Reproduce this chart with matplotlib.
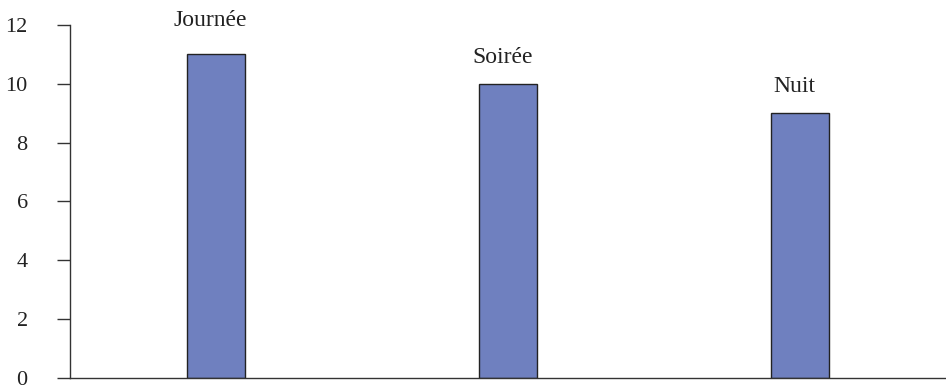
import matplotlib.pyplot as plt

categories = ["Journée", "Soirée", "Nuit"]
values = [11, 10, 9]
label_offsets = [0.95, 0.72, 0.72]

plt.rcParams['font.family'] = ['Liberation Serif', 'DejaVu Serif']

fig = plt.figure(figsize=(9.46, 3.88), dpi=100)
ax = fig.add_axes([0.074, 0.0265, 0.926, 0.909])

x = list(range(len(categories)))
ax.bar(x, values, 0.2, color='#6f80bf', edgecolor='#222222', linewidth=1)

for xi, v, name, off in zip(x, values, categories, label_offsets):
    ax.annotate(name, (xi, v + off), xytext=(-4, 0), textcoords='offset points',
                ha='center', va='baseline', fontsize=17, color='#222222')

ax.set_xlim(-0.5, 2.5)
ax.set_ylim(0, 12)
ax.set_yticks(range(0, 13, 2))
ax.set_xticks([])

for s in ['top', 'right']:
    ax.spines[s].set_visible(False)
for s in ['left', 'bottom']:
    ax.spines[s].set_color('#333333')
    ax.spines[s].set_linewidth(1)

ax.tick_params(axis='y', length=9.5, width=1, color='#333333', pad=21,
               labelsize=16, labelcolor='#222222')

fig.savefig('out.png', dpi=100)
